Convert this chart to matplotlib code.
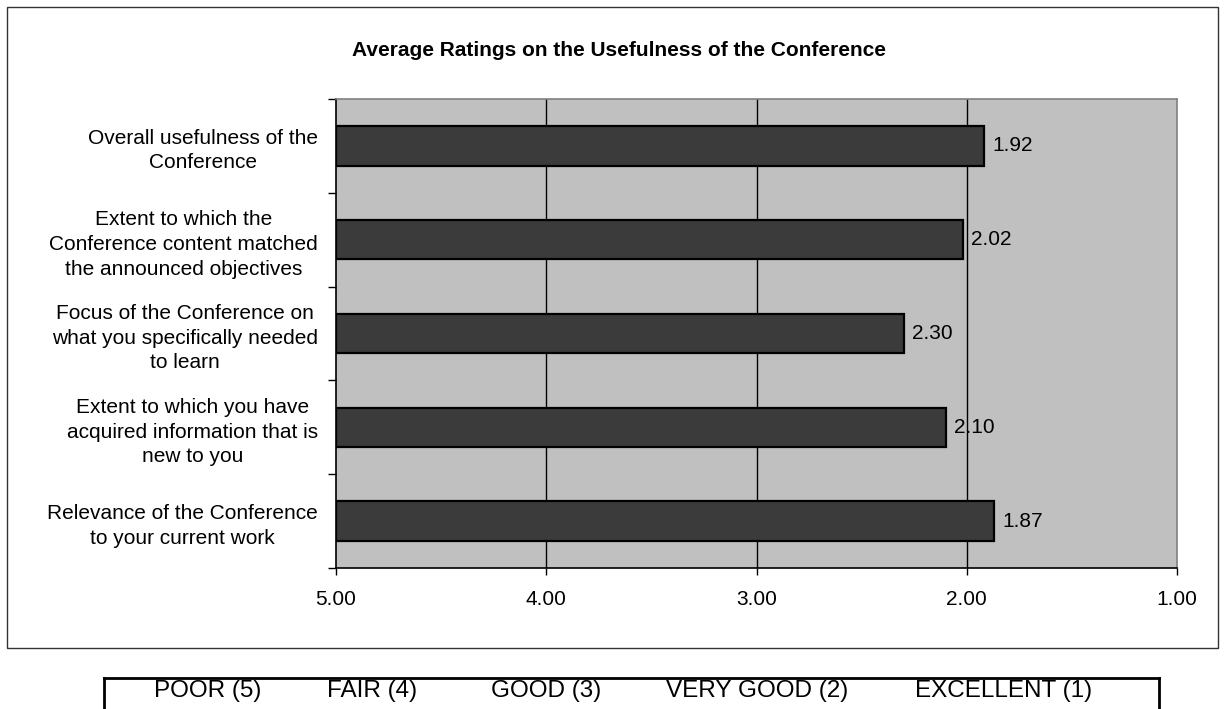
import matplotlib.pyplot as plt
from matplotlib.patches import Rectangle
from matplotlib.lines import Line2D

plt.rcParams['font.family'] = ['Liberation Sans', 'DejaVu Sans']

# data
categories = [
    "Overall usefulness of the\nConference",
    "Extent to which the\nConference content matched\nthe announced objectives",
    "Focus of the Conference on\nwhat you specifically needed\nto learn",
    "Extent to which you have\nacquired information that is\nnew to you",
    "Relevance of the Conference\nto your current work",
]
ratings = [1.92, 2.02, 2.30, 2.10, 1.87]
x_ticks = [5, 4, 3, 2, 1]
scale_labels = ["POOR (5)", "FAIR (4)", "GOOD (3)", "VERY GOOD (2)", "EXCELLENT (1)"]
scale_x = [208, 372, 546, 757, 1004]  # pixel centres of the legend strip text

W, H = 1227, 709
fig = plt.figure(figsize=(W / 100, H / 100), dpi=100)
ax = fig.add_axes([336 / W, 1 - 568 / H, 841 / W, 469 / H])

ypos = list(range(len(categories)))
ax.barh(ypos, [r - 5 for r in ratings], left=5, height=0.42,
        color='#3b3b3b', edgecolor='black', linewidth=1.6, zorder=3)

for y, r in zip(ypos, ratings):
    ax.annotate(f"{r:.2f}", xy=(r, y), xytext=(6, 0), textcoords='offset points',
                ha='left', va='center', fontsize=15, zorder=4)

ax.set_xlim(5, 1)
ax.set_ylim(len(categories) - 0.5, -0.5)
ax.set_facecolor('#c0c0c0')

ax.set_xticks(x_ticks)
ax.set_xticklabels([f"{v:.2f}" for v in x_ticks], fontsize=15)
ax.tick_params(axis='x', length=5, width=1, pad=11, direction='out')
for v in x_ticks[1:-1]:
    ax.axvline(v, color='black', linewidth=1, zorder=1)

# category boundaries as major ticks, labels on minor ticks
ax.set_yticks([i - 0.5 for i in range(len(categories) + 1)])
ax.set_yticklabels([])
ax.set_yticks(ypos, minor=True)
ax.set_yticklabels(categories, minor=True, fontsize=15,
                   multialignment='center', linespacing=1.37)
ax.tick_params(axis='y', which='major', length=6, width=1, direction='out')
ax.tick_params(axis='y', which='minor', length=0, pad=13)

ax.spines['left'].set_color('black')
ax.spines['bottom'].set_color('black')
ax.spines['top'].set_color('#808080')
ax.spines['right'].set_color('#808080')
for s in ax.spines.values():
    s.set_linewidth(1.2)

fig.text(619 / W, 1 - 50 / H, "Average Ratings on the Usefulness of the Conference",
         ha='center', va='center', fontsize=15, fontweight='bold')

# outer chart frame
fig.patches.append(Rectangle((7 / W, 1 - 648 / H), 1211 / W, 641 / H,
                             transform=fig.transFigure, fill=False,
                             edgecolor='#333333', linewidth=1))

# rating scale strip
strip = dict(transform=fig.transFigure, color='black', linewidth=2)
fig.lines.append(Line2D([104 / W, 1159 / W], [1 - 678 / H, 1 - 678 / H], **strip))
fig.lines.append(Line2D([104 / W, 104 / W], [1 - 678 / H, 0], **strip))
fig.lines.append(Line2D([1159 / W, 1159 / W], [1 - 678 / H, 0], **strip))
for x, lab in zip(scale_x, scale_labels):
    fig.text(x / W, 1 - 691 / H, lab, ha='center', va='center', fontsize=17.5)

fig.savefig('out.png', dpi=100)
